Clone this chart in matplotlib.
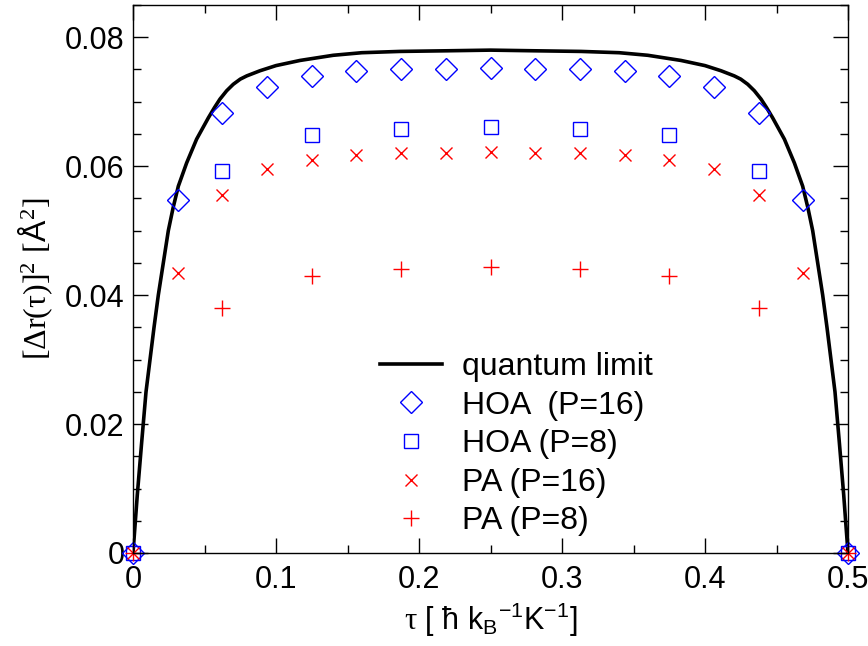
import numpy as np
import matplotlib
matplotlib.use("Agg")
import matplotlib.pyplot as plt
from matplotlib.ticker import MultipleLocator

plt.rcParams['font.family'] = ['Liberation Sans', 'DejaVu Sans']
plt.rcParams['mathtext.fontset'] = 'custom'
plt.rcParams['mathtext.rm'] = 'Liberation Sans'
plt.rcParams['mathtext.it'] = 'Liberation Sans:italic'
plt.rcParams['mathtext.sf'] = 'Liberation Serif'

# quantum limit curve
tau_ql = [0.0, 0.003, 0.006, 0.0091, 0.0119, 0.0147, 0.0177, 0.0212, 0.0247,
          0.0280, 0.0317, 0.0375, 0.0445, 0.0527, 0.0570, 0.0608, 0.0655,
          0.0701, 0.0750, 0.0795, 0.0888, 0.1000, 0.1168, 0.1400, 0.1600,
          0.1867, 0.2200, 0.2500,
          0.2800, 0.3133, 0.3400, 0.3600, 0.3832, 0.4000, 0.4112, 0.4205,
          0.4250, 0.4299, 0.4345, 0.4392, 0.4430, 0.4473, 0.4555, 0.4625,
          0.4683, 0.4720, 0.4753, 0.4788, 0.4823, 0.4853, 0.4881, 0.4909,
          0.4940, 0.4970, 0.5]
dr_ql = [0.0, 0.0090, 0.0170, 0.0250, 0.0300, 0.0350, 0.0400, 0.0450, 0.0500,
         0.0535, 0.0569, 0.0605, 0.0642, 0.0675, 0.0691, 0.0704, 0.0717,
         0.0727, 0.0735, 0.0740, 0.0748, 0.0756, 0.0764, 0.0772, 0.0776,
         0.0778, 0.0779, 0.0780,
         0.0779, 0.0778, 0.0776, 0.0772, 0.0764, 0.0756, 0.0748, 0.0740,
         0.0735, 0.0727, 0.0717, 0.0704, 0.0691, 0.0675, 0.0642, 0.0605,
         0.0569, 0.0535, 0.0500, 0.0450, 0.0400, 0.0350, 0.0300, 0.0250,
         0.0170, 0.0090, 0.0]

tau_p16 = [0.0, 0.03125, 0.0625, 0.09375, 0.125, 0.15625, 0.1875, 0.21875, 0.25,
           0.28125, 0.3125, 0.34375, 0.375, 0.40625, 0.4375, 0.46875, 0.5]
tau_p8 = [0.0, 0.0625, 0.125, 0.1875, 0.25, 0.3125, 0.375, 0.4375, 0.5]

hoa16 = [0.0, 0.0547, 0.0683, 0.0723, 0.0740, 0.0747, 0.0750, 0.0751, 0.0752,
         0.0751, 0.0750, 0.0747, 0.0740, 0.0723, 0.0683, 0.0547, 0.0]
hoa8 = [0.0, 0.0593, 0.0648, 0.0658, 0.0660, 0.0658, 0.0648, 0.0593, 0.0]
pa16 = [0.0, 0.0434, 0.0555, 0.0595, 0.0610, 0.0617, 0.0620, 0.0621, 0.0622,
        0.0621, 0.0620, 0.0617, 0.0610, 0.0595, 0.0555, 0.0434, 0.0]
pa8 = [0.0, 0.0380, 0.0429, 0.0440, 0.0443, 0.0440, 0.0429, 0.0380, 0.0]

fig = plt.figure(figsize=(8.68, 6.46), dpi=100)
ax = fig.add_axes([133/868, 1 - 553/646, 715/868, 548/646])

ax.plot(tau_ql, dr_ql, color='black', lw=2.6, label='quantum limit')
ax.plot(tau_p16, hoa16, ls='none', marker='D', ms=11.5, mfc='none', mec='blue',
        mew=1.0, clip_on=False, label='HOA  (P=16)')
ax.plot(tau_p8, hoa8, ls='none', marker='s', ms=9.5, mfc='none', mec='blue',
        mew=1.0, clip_on=False, label='HOA (P=8)')
ax.plot(tau_p16, pa16, ls='none', marker='x', ms=8.5, mec='red', mew=1.0,
        clip_on=False, label='PA (P=16)')
ax.plot(tau_p8, pa8, ls='none', marker='+', ms=11, mec='red', mew=1.0,
        clip_on=False, label='PA (P=8)')

ax.set_xlim(0, 0.5)
ax.set_ylim(0, 0.085)
ax.xaxis.set_minor_locator(MultipleLocator(0.05))
ax.yaxis.set_minor_locator(MultipleLocator(0.005))
ax.set_xticks([0, 0.1, 0.2, 0.3, 0.4, 0.5])
ax.set_xticklabels(['0', '0.1', '0.2', '0.3', '0.4', '0.5'])
ax.set_yticks([0, 0.02, 0.04, 0.06, 0.08])
ax.set_yticklabels(['0', '0.02', '0.04', '0.06', '0.08'])
ax.tick_params(which='both', direction='in', top=True, right=True, width=1.0)
ax.tick_params(which='major', length=11, labelsize=22)
ax.tick_params(axis='x', which='major', pad=9)
ax.tick_params(axis='y', which='major', pad=6)
ax.tick_params(which='minor', length=5.5)
for s in ax.spines.values():
    s.set_linewidth(1.0)

ax.set_xlabel(r'$\mathsf{\tau}$ [ ħ k$_\mathregular{B}$$^\mathregular{-1}$K$^\mathregular{-1}$]',
              fontsize=22, labelpad=4)
ax.set_ylabel(r'$\mathsf{[\Delta r(\tau)]^2\ [}\mathregular{Å}\mathsf{^2]}$',
              fontsize=23, labelpad=7)

ax.legend(loc='upper left', bbox_to_anchor=(380/868, 1 - 352/646),
          bbox_transform=fig.transFigure, frameon=False, fontsize=23,
          borderpad=0, borderaxespad=0, handlelength=1.95, handletextpad=0.63,
          labelspacing=0.27)

fig.savefig('out.png', dpi=100)
